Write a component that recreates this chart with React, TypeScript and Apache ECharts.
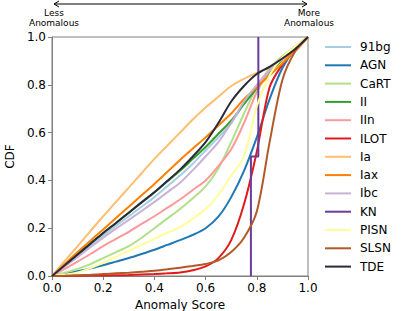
import React, { useEffect, useRef } from "react";
import * as echarts from "echarts";

const xGrid = [0, 0.05, 0.1, 0.15, 0.2, 0.25, 0.3, 0.35, 0.4, 0.45, 0.5, 0.55, 0.6, 0.65, 0.7, 0.75, 0.8, 0.85, 0.9, 0.95, 1];

const cdf91bg = [0, 0.042, 0.085, 0.128, 0.17, 0.21, 0.25, 0.29, 0.33, 0.375, 0.42, 0.47, 0.525, 0.58, 0.64, 0.72, 0.79, 0.86, 0.91, 0.955, 1];
const cdfAGN = [0, 0.01, 0.02, 0.032, 0.045, 0.06, 0.075, 0.092, 0.11, 0.13, 0.15, 0.172, 0.2, 0.248, 0.33, 0.44, 0.58, 0.74, 0.87, 0.95, 1];
const cdfCaRT = [0, 0.014, 0.03, 0.05, 0.075, 0.1, 0.125, 0.16, 0.2, 0.24, 0.28, 0.325, 0.375, 0.45, 0.56, 0.68, 0.79, 0.87, 0.92, 0.96, 1];
const cdfII = [0, 0.045, 0.09, 0.135, 0.18, 0.222, 0.265, 0.308, 0.35, 0.395, 0.44, 0.49, 0.54, 0.595, 0.65, 0.72, 0.785, 0.85, 0.905, 0.95, 1];
const cdfIIn = [0, 0.03, 0.06, 0.092, 0.125, 0.155, 0.185, 0.218, 0.25, 0.285, 0.32, 0.36, 0.4, 0.46, 0.53, 0.64, 0.77, 0.86, 0.915, 0.96, 1];
const cdfILOT = [0, 0, 0.001, 0.002, 0.002, 0.003, 0.004, 0.006, 0.008, 0.011, 0.015, 0.024, 0.04, 0.075, 0.15, 0.3, 0.52, 0.79, 0.885, 0.95, 1];
const cdfIa = [0, 0.063, 0.125, 0.188, 0.25, 0.31, 0.37, 0.43, 0.49, 0.545, 0.6, 0.655, 0.705, 0.75, 0.795, 0.825, 0.85, 0.875, 0.905, 0.94, 1];
const cdfIax = [0, 0.05, 0.1, 0.148, 0.195, 0.243, 0.29, 0.338, 0.385, 0.435, 0.485, 0.533, 0.58, 0.63, 0.68, 0.74, 0.79, 0.84, 0.89, 0.945, 1];
const cdfIbc = [0, 0.04, 0.08, 0.12, 0.16, 0.198, 0.235, 0.272, 0.31, 0.35, 0.39, 0.443, 0.5, 0.56, 0.64, 0.73, 0.8, 0.86, 0.91, 0.955, 1];
const cdfPISN = [0, 0.006, 0.015, 0.033, 0.055, 0.08, 0.105, 0.13, 0.155, 0.18, 0.205, 0.24, 0.28, 0.34, 0.42, 0.5, 0.71, 0.84, 0.915, 0.96, 1];
const cdfSLSN = [0, 0.001, 0.003, 0.005, 0.008, 0.011, 0.014, 0.018, 0.022, 0.028, 0.035, 0.042, 0.05, 0.065, 0.1, 0.16, 0.27, 0.56, 0.82, 0.94, 1];
const cdfTDE = [0, 0.045, 0.09, 0.135, 0.18, 0.222, 0.265, 0.308, 0.35, 0.397, 0.445, 0.5, 0.56, 0.64, 0.73, 0.795, 0.845, 0.875, 0.91, 0.95, 1];

const knX = [0.777, 0.777, 0.806, 0.806];
const knY = [0, 0.5, 0.5, 1];

const classNames = ["91bg", "AGN", "CaRT", "II", "IIn", "ILOT", "Ia", "Iax", "Ibc", "KN", "PISN", "SLSN", "TDE"];
const classColors = [
  "#a6cee3", "#1f78b4", "#b2df8a", "#33a02c", "#fb9a99", "#e31a1c", "#fdbf6f",
  "#ff7f00", "#cab2d6", "#6a3d9a", "#ffff99", "#b15928", "#2a2a3a",
];
const classCurves: (number[] | null)[] = [
  cdf91bg, cdfAGN, cdfCaRT, cdfII, cdfIIn, cdfILOT, cdfIa, cdfIax, cdfIbc, null, cdfPISN, cdfSLSN, cdfTDE,
];

const FONT = "DejaVu Sans";

export default function App() {
  const ref = useRef<HTMLDivElement>(null);
  useEffect(() => {
    if (!ref.current) return;
    const chart = echarts.init(ref.current, undefined, { renderer: "svg" });

    const series: any[] = classNames.map((name, i) => {
      const curve = classCurves[i];
      const data = curve
        ? curve.map((y, j) => [xGrid[j], y])
        : knX.map((x, j) => [x, knY[j]]);
      return {
        name,
        type: "line",
        data,
        showSymbol: false,
        symbol: "none",
        smooth: curve ? 0.3 : false,
        lineStyle: { color: classColors[i], width: 2 },
        itemStyle: { color: classColors[i] },
        z: 2 + i,
      };
    });

    const arrowY = 4;
    const ax0 = 54;
    const ax1 = 307;

    chart.setOption({
      animation: false,
      grid: {
        left: 52,
        right: 107,
        top: 37,
        bottom: 35,
        show: true,
        borderColor: "#808080",
        borderWidth: 1,
        containLabel: false,
        outerBoundsMode: "none",
      },
      xAxis: {
        type: "value",
        min: 0,
        max: 1,
        interval: 0.2,
        name: "Anomaly Score",
        nameLocation: "middle",
        nameGap: 22,
        nameTextStyle: { fontFamily: FONT, fontSize: 12, color: "#000" },
        axisLine: { show: true, lineStyle: { color: "#808080", width: 1 } },
        axisTick: { show: true, inside: false, length: 4, lineStyle: { color: "#808080" } },
        axisLabel: {
          fontFamily: FONT,
          fontSize: 12,
          color: "#000",
          margin: 6,
          formatter: (v: number) => v.toFixed(1),
        },
        splitLine: { show: false },
      },
      yAxis: {
        type: "value",
        min: 0,
        max: 1,
        interval: 0.2,
        name: "CDF",
        nameLocation: "middle",
        nameGap: 28,
        nameTextStyle: { fontFamily: FONT, fontSize: 12, color: "#000" },
        axisLine: { show: true, lineStyle: { color: "#808080", width: 1 } },
        axisTick: { show: true, inside: false, length: 4, lineStyle: { color: "#808080" } },
        axisLabel: {
          fontFamily: FONT,
          fontSize: 12,
          color: "#000",
          margin: 6,
          formatter: (v: number) => v.toFixed(1),
        },
        splitLine: { show: false },
      },
      legend: {
        orient: "vertical",
        left: 320,
        top: 36,
        itemWidth: 26,
        itemHeight: 14,
        itemGap: 6.3,
        icon: "path://M0,6 L26,6 L26,8 L0,8 Z",
        textStyle: { fontFamily: FONT, fontSize: 12, color: "#000", padding: [0, 0, 0, 4] },
        data: classNames,
      },
      graphic: [
        {
          type: "line",
          shape: { x1: ax0, y1: arrowY, x2: ax1, y2: arrowY },
          style: { stroke: "#000", lineWidth: 1 },
        },
        {
          type: "polyline",
          shape: { points: [[ax0 + 5, arrowY - 3], [ax0, arrowY], [ax0 + 5, arrowY + 3]] },
          style: { stroke: "#000", lineWidth: 1, fill: "none" },
        },
        {
          type: "polyline",
          shape: { points: [[ax1 - 5, arrowY - 3], [ax1, arrowY], [ax1 - 5, arrowY + 3]] },
          style: { stroke: "#000", lineWidth: 1, fill: "none" },
        },
        {
          type: "text",
          x: 54,
          y: 8,
          style: {
            text: "Less\nAnomalous",
            fontFamily: FONT,
            fontSize: 9,
            lineHeight: 10,
            fill: "#000",
            align: "center",
            verticalAlign: "top",
          },
        },
        {
          type: "text",
          x: 309,
          y: 8,
          style: {
            text: "More\nAnomalous",
            fontFamily: FONT,
            fontSize: 9,
            lineHeight: 10,
            fill: "#000",
            align: "center",
            verticalAlign: "top",
          },
        },
      ],
      series,
    });

    return () => chart.dispose();
  }, []);

  return (
    <div
      ref={ref}
      style={{ position: "fixed", left: 0, top: 0, width: 415, height: 311, background: "#fff" }}
    />
  );
}
